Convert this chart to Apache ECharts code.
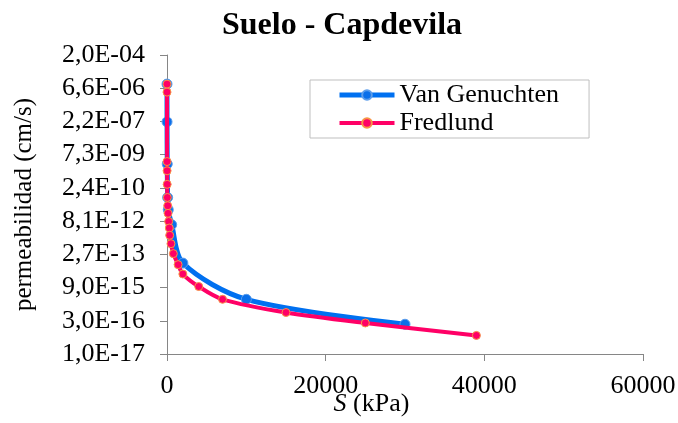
<!DOCTYPE html>
<html>
<head>
<meta charset="utf-8">
<script src="https://cdn.jsdelivr.net/npm/echarts@6/dist/echarts.min.js"></script>
<style>
  html, body { margin: 0; padding: 0; background: #fff; }
  #chart { width: 678px; height: 423px; }
</style>
</head>
<body>
<div id="chart"></div>
<script>
// succión (kPa) y permeabilidad (cm/s)
const sVanGenuchten = [0, 5, 30, 80, 160, 590, 2000, 10000, 30000];
const kVanGenuchten = [1.0e-5, 2.1e-7, 2.8e-9, 9.1e-11, 2.6e-11, 5.6e-12, 1.1e-13, 2.7e-15, 2.1e-16];

const sFredlund = [0, 1, 5, 10, 20, 40, 90, 130, 210, 290, 340, 500, 800, 1400, 2000, 4000, 7000, 15000, 25000, 39000];
const kFredlund = [1.0e-5, 4.4e-6, 3.6e-9, 1.4e-9, 3.5e-10, 9.1e-11, 3.9e-11, 1.8e-11, 7.8e-12, 4.0e-12, 1.9e-12, 8.0e-13, 2.9e-13, 9.4e-14, 3.6e-14, 1.0e-14, 2.7e-15, 7.0e-16, 2.4e-16, 6.7e-17];

const xTicks = [0, 20000, 40000, 60000];
// eje log base 30 desde 1,0E-17 (se grafica en unidades de 1E-17 cm/s)
const kBase = 1e-17;
const logBase = 30;
const nDecades = 9;

const serif = '"Liberation Serif", "Times New Roman", serif';

function pares(s, k) {
  let out = [];
  for (let i = 0; i < s.length; i++) {
    out.push([s[i], k[i] / kBase]);
  }
  return out;
}

// formato tipo Excel: 2,0E-04
function fmtSci(v) {
  let str = (v * kBase).toExponential(1);
  let parts = str.split('e');
  let mant = parts[0].replace('.', ',');
  let exp = parseInt(parts[1], 10);
  let sign = exp < 0 ? '-' : '+';
  let digits = String(Math.abs(exp));
  if (digits.length < 2) digits = '0' + digits;
  return mant + 'E' + sign + digits;
}

const chart = echarts.init(document.getElementById('chart'), null, { renderer: 'canvas' });

const axisGray = '#868686';

chart.setOption({
  animation: false,
  backgroundColor: '#fff',
  title: {
    text: 'Suelo - Capdevila',
    left: 217,
    top: 5,
    textStyle: { fontFamily: serif, fontWeight: 'bold', fontSize: 32, color: '#000' }
  },
  legend: {
    orient: 'vertical',
    left: 310,
    top: 80,
    padding: [2, 30, 2, 27],
    itemGap: 2,
    itemWidth: 55,
    itemHeight: 12,
    borderColor: '#bfbfbf',
    borderWidth: 1,
    textStyle: { fontFamily: serif, fontSize: 26, color: '#000' },
    data: [
      { name: 'Van Genuchten', lineStyle: { width: 5 } },
      { name: 'Fredlund', lineStyle: { width: 4 } }
    ]
  },
  grid: { left: 167, right: 35, top: 55, bottom: 69, outerBoundsMode: 'none', containLabel: false },
  xAxis: {
    type: 'value',
    min: 0,
    max: 60000,
    interval: 20000,
    name: '{i|S} (kPa)',
    nameLocation: 'middle',
    nameGap: 37,
    nameMoveOverlap: false,
    nameTextStyle: {
      fontFamily: serif, fontSize: 26, color: '#000',
      padding: [0, 67, 0, 0],
      rich: { i: { fontFamily: serif, fontSize: 26, fontStyle: 'italic', color: '#000' } }
    },
    axisLine: { show: true, lineStyle: { color: axisGray, width: 1 } },
    axisTick: { show: true, length: 7, lineStyle: { color: axisGray } },
    splitLine: { show: false },
    axisLabel: {
      fontFamily: serif, fontSize: 26, color: '#000', margin: 19,
      formatter: function (v) { return xTicks.indexOf(v) >= 0 ? String(v) : ''; }
    }
  },
  yAxis: {
    type: 'log',
    logBase: logBase,
    min: 1,
    max: Math.pow(logBase, nDecades),
    splitNumber: nDecades,
    name: 'permeabilidad (cm/s)',
    nameLocation: 'middle',
    nameGap: 130,
    nameMoveOverlap: false,
    nameTextStyle: { fontFamily: serif, fontSize: 25, color: '#000' },
    axisLine: { show: true, lineStyle: { color: axisGray, width: 1 } },
    axisTick: { show: true, length: 7, lineStyle: { color: axisGray } },
    minorTick: { show: false },
    splitLine: { show: false },
    axisLabel: {
      fontFamily: serif, fontSize: 26, color: '#000', margin: 22,
      formatter: fmtSci
    }
  },
  series: [
    {
      name: 'Van Genuchten',
      type: 'line',
      smooth: 0.3,
      data: pares(sVanGenuchten, kVanGenuchten),
      symbol: 'circle',
      symbolSize: 10,
      lineStyle: { color: '#0070F0', width: 5 },
      itemStyle: { color: '#0A6FEA', borderColor: '#5C9DEB', borderWidth: 1 },
      z: 2
    },
    {
      name: 'Fredlund',
      type: 'line',
      smooth: 0.3,
      data: pares(sFredlund, kFredlund),
      symbol: 'circle',
      symbolSize: 8,
      lineStyle: { color: '#FF0066', width: 4 },
      itemStyle: { color: '#FF0066', borderColor: '#F79646', borderWidth: 1 },
      z: 3
    }
  ]
});
</script>
</body>
</html>
